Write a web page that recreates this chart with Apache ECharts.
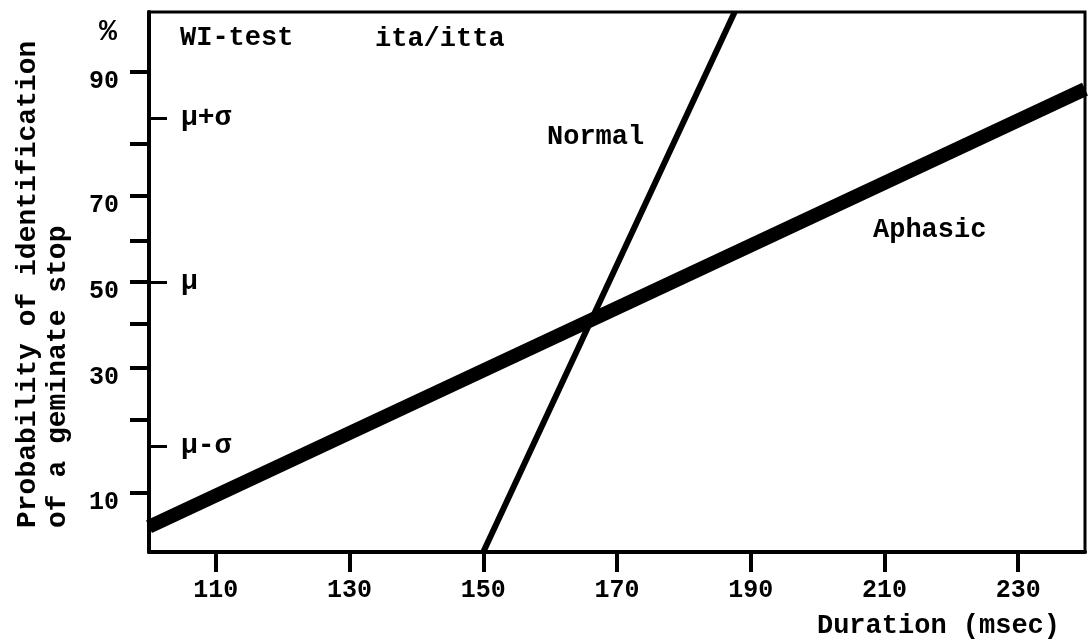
<!DOCTYPE html>
<html>
<head>
<meta charset="utf-8">
<script src="https://cdn.jsdelivr.net/npm/echarts@6/dist/echarts.min.js"></script>
<style>
html,body{margin:0;padding:0;background:#fff;}
#chart{width:1089px;height:641px;}
</style>
</head>
<body>
<div id="chart"></div>
<script>
// ---- data ----
const xRange = [100, 240];
const xTicks = [110, 130, 150, 170, 190, 210, 230];
const yRangePct = [5, 95];
const yTickPct = [10, 20, 30, 40, 50, 60, 70, 80, 90];
const yLabelPct = [10, 30, 50, 70, 90];
const muLabels = ['μ+σ', 'μ', 'μ-σ'];
const muPct = [84.13, 50, 15.87];
const normalX = [150, 187.6];
const normalP = [5, 95];
const aphasicX = [100, 240];
const aphasicP = [6.8, 88];

// ---- probability (normal-probit) scale ----
function probit(pct) {
  const p = pct / 100;
  const a = [-3.969683028665376e+01, 2.209460984245205e+02, -2.759285104469687e+02, 1.383577518672690e+02, -3.066479806614716e+01, 2.506628277459239e+00];
  const b = [-5.447609879822406e+01, 1.615858368580409e+02, -1.556989798598866e+02, 6.680131188771972e+01, -1.328068155288572e+01];
  const c = [-7.784894002430293e-03, -3.223964580411365e-01, -2.400758277161838e+00, -2.549671348433760e+00, 4.374664141464968e+00, 2.938163982698783e+00];
  const d = [7.784695709041462e-03, 3.224671290700398e-01, 2.445134137142996e+00, 3.754408661907416e+00];
  const plow = 0.02425, phigh = 1 - plow;
  let q, r;
  if (p < plow) {
    q = Math.sqrt(-2 * Math.log(p));
    return (((((c[0]*q+c[1])*q+c[2])*q+c[3])*q+c[4])*q+c[5]) / ((((d[0]*q+d[1])*q+d[2])*q+d[3])*q+1);
  } else if (p <= phigh) {
    q = p - 0.5; r = q*q;
    return (((((a[0]*r+a[1])*r+a[2])*r+a[3])*r+a[4])*r+a[5])*q / (((((b[0]*r+b[1])*r+b[2])*r+b[3])*r+b[4])*r+1);
  } else {
    q = Math.sqrt(-2 * Math.log(1 - p));
    return -(((((c[0]*q+c[1])*q+c[2])*q+c[3])*q+c[4])*q+c[5]) / ((((d[0]*q+d[1])*q+d[2])*q+d[3])*q+1);
  }
}
const yMin = probit(yRangePct[0]);
const yMax = probit(yRangePct[1]);
const yTickZ = yTickPct.map(probit);
const yLabelZ = yLabelPct.map(probit);
const muZ = muPct.map(probit);
function lookup(v, zs, labels) {
  const i = zs.findIndex(z => Math.abs(z - v) < 1e-6);
  return i >= 0 ? String(labels[i]) : '';
}
const FONT = 'Liberation Mono';

const chart = echarts.init(document.getElementById('chart'), null, {renderer: 'canvas'});
chart.setOption({
  animation: false,
  backgroundColor: '#fff',
  grid: {
    left: 149, right: 4, top: 12, bottom: 89,
    show: true, borderColor: '#000', borderWidth: 3, backgroundColor: 'transparent',
    containLabel: false, outerBoundsMode: 'none'
  },
  xAxis: {
    type: 'value', min: xRange[0], max: xRange[1],
    axisLine: {show: true, onZero: false, lineStyle: {color: '#000', width: 4}},
    axisTick: {show: true, customValues: xTicks, length: 20, lineStyle: {color: '#000', width: 4}},
    axisLabel: {show: true, customValues: xTicks, margin: 26, color: '#000', fontFamily: FONT, fontSize: 25, fontWeight: 'bold'},
    splitLine: {show: false}
  },
  yAxis: [
    {
      type: 'value', min: yMin, max: yMax, position: 'left',
      axisLine: {show: true, onZero: false, lineStyle: {color: '#000', width: 4}},
      axisTick: {show: true, customValues: yTickZ, length: 19, lineStyle: {color: '#000', width: 4}},
      axisLabel: {show: true, customValues: yLabelZ, margin: 30, color: '#000', fontFamily: FONT, fontSize: 25, fontWeight: 'bold',
        verticalAlign: 'top', lineHeight: 20,
        formatter: v => lookup(v, yLabelZ, yLabelPct)},
      splitLine: {show: false}
    },
    {
      type: 'value', min: yMin, max: yMax, position: 'left', offset: 0,
      axisLine: {show: false},
      axisTick: {show: true, inside: true, customValues: muZ, length: 18, lineStyle: {color: '#000', width: 3}},
      axisLabel: {show: true, inside: true, customValues: muZ, margin: 32, color: '#000', fontFamily: FONT, fontSize: 28, fontWeight: 'bold',
        formatter: v => lookup(v, muZ, muLabels)},
      splitLine: {show: false}
    }
  ],
  series: [
    {
      name: 'Normal', type: 'line', yAxisIndex: 0, symbol: 'none', clip: true,
      lineStyle: {color: '#000', width: 6},
      data: normalX.map((x, i) => [x, probit(normalP[i])])
    },
    {
      name: 'Aphasic', type: 'line', yAxisIndex: 0, symbol: 'none', clip: true,
      lineStyle: {color: '#000', width: 14},
      data: aphasicX.map((x, i) => [x, probit(aphasicP[i])])
    }
  ],
  graphic: [
    {type: 'text', x: 108, y: 32, style: {text: '%', font: 'bold 30px "Liberation Mono"', fill: '#000', align: 'center', verticalAlign: 'middle'}},
    {type: 'text', x: 180, y: 38, style: {text: 'WI-test', font: 'bold 27px "Liberation Mono"', fill: '#000', align: 'left', verticalAlign: 'middle'}},
    {type: 'text', x: 375, y: 39, style: {text: 'ita/itta', font: 'bold 27px "Liberation Mono"', fill: '#000', align: 'left', verticalAlign: 'middle'}},
    {type: 'text', x: 547, y: 137, style: {text: 'Normal', font: 'bold 27px "Liberation Mono"', fill: '#000', align: 'left', verticalAlign: 'middle'}},
    {type: 'text', x: 873, y: 230, style: {text: 'Aphasic', font: 'bold 27px "Liberation Mono"', fill: '#000', align: 'left', verticalAlign: 'middle'}},
    {type: 'text', x: 1060, y: 626, style: {text: 'Duration (msec)', font: 'bold 27px "Liberation Mono"', fill: '#000', align: 'right', verticalAlign: 'middle'}},
    {type: 'text', x: 28, y: 528, rotation: Math.PI / 2, style: {text: 'Probability of identification', font: 'bold 28px "Liberation Mono"', fill: '#000', align: 'left', verticalAlign: 'middle'}},
    {type: 'text', x: 58, y: 528, rotation: Math.PI / 2, style: {text: 'of a geminate stop', font: 'bold 28px "Liberation Mono"', fill: '#000', align: 'left', verticalAlign: 'middle'}}
  ]
});
</script>
</body>
</html>
